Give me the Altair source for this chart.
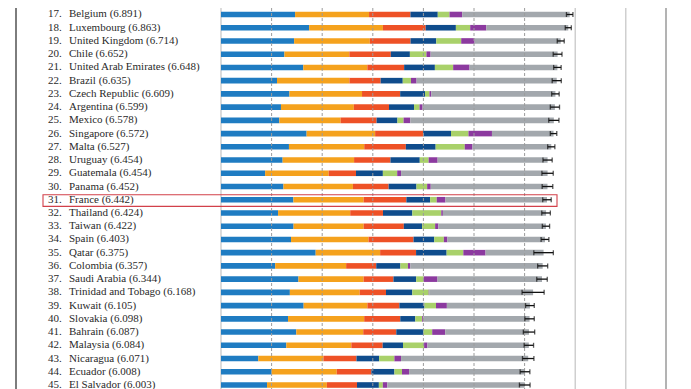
import altair as alt
import pandas as pd

countries = ["Belgium", "Luxembourg", "United Kingdom", "Chile", "United Arab Emirates",
             "Brazil", "Czech Republic", "Argentina", "Mexico", "Singapore", "Malta",
             "Uruguay", "Guatemala", "Panama", "France", "Thailand", "Taiwan", "Spain",
             "Qatar", "Colombia", "Saudi Arabia", "Trinidad and Tobago", "Kuwait",
             "Slovakia", "Bahrain", "Malaysia", "Nicaragua", "Ecuador", "El Salvador"]
ranks = list(range(17, 46))
scores = [6.891, 6.863, 6.714, 6.652, 6.648, 6.635, 6.609, 6.599, 6.578, 6.572, 6.527,
          6.454, 6.454, 6.452, 6.442, 6.424, 6.422, 6.403, 6.375, 6.357, 6.344, 6.168,
          6.105, 6.098, 6.087, 6.084, 6.071, 6.008, 6.003]
gdp = [1.464, 1.742, 1.445, 1.253, 1.626, 1.107, 1.353, 1.185, 1.153, 1.692, 1.343,
       1.218, 0.872, 1.234, 1.431, 1.128, 1.434, 1.384, 1.871, 1.071, 1.531, 1.361,
       1.633, 1.325, 1.488, 1.291, 0.737, 1.001, 0.910]
social = [1.462, 1.458, 1.496, 1.284, 1.266, 1.431, 1.434, 1.440, 1.211, 1.354, 1.488,
          1.412, 1.256, 1.373, 1.388, 1.426, 1.385, 1.532, 1.274, 1.402, 1.287, 1.380,
          1.260, 1.505, 1.323, 1.285, 1.287, 1.286, 1.182]
health = [0.818, 0.845, 0.805, 0.819, 0.727, 0.617, 0.754, 0.695, 0.710, 0.949, 0.822,
          0.719, 0.540, 0.706, 0.844, 0.647, 0.794, 0.889, 0.710, 0.595, 0.590, 0.520,
          0.632, 0.713, 0.653, 0.619, 0.653, 0.685, 0.596]
freedom = [0.540, 0.597, 0.508, 0.377, 0.608, 0.437, 0.491, 0.495, 0.413, 0.550, 0.589,
           0.579, 0.531, 0.550, 0.470, 0.580, 0.361, 0.409, 0.604, 0.477, 0.450, 0.519,
           0.496, 0.296, 0.537, 0.402, 0.448, 0.455, 0.432]
generosity = [0.232, 0.283, 0.493, 0.327, 0.361, 0.162, 0.088, 0.109, 0.121, 0.346, 0.575,
              0.175, 0.283, 0.211, 0.130, 0.572, 0.258, 0.190, 0.330, 0.149, 0.148, 0.325,
              0.228, 0.137, 0.173, 0.417, 0.302, 0.150, 0.078]
trust = [0.251, 0.319, 0.265, 0.082, 0.324, 0.111, 0.037, 0.060, 0.133, 0.464, 0.153,
         0.178, 0.077, 0.071, 0.173, 0.032, 0.064, 0.071, 0.439, 0.047, 0.273, 0.009,
         0.215, 0.024, 0.257, 0.066, 0.131, 0.140, 0.090]
whisker_low = [6.827, 6.803, 6.645, 6.565, 6.574, 6.545, 6.535, 6.508, 6.477, 6.508, 6.456,
               6.363, 6.342, 6.347, 6.358, 6.339, 6.350, 6.326, 6.182, 6.258, 6.240, 5.950,
               6.019, 6.005, 5.975, 5.991, 5.958, 5.912, 5.898]
whisker_high = [6.955, 6.923, 6.783, 6.739, 6.722, 6.725, 6.683, 6.690, 6.679, 6.636, 6.598,
                6.545, 6.566, 6.557, 6.526, 6.509, 6.494, 6.480, 6.568, 6.456, 6.448, 6.386,
                6.191, 6.191, 6.199, 6.177, 6.184, 6.104, 6.108]

parts = ["GDP per capita", "Social support", "Healthy life expectancy", "Freedom",
         "Generosity", "Trust", "Dystopia + residual"]
part_colors = ["#1f7cc2", "#f5a21d", "#ee5126", "#0f4c8c", "#a9d16a", "#8c3a9f", "#a3a8ad"]
grid_values = [0, 1, 2, 3, 4, 5, 6, 7, 8]
highlight = "France"

rows = []
for i, c in enumerate(countries):
    known = [gdp[i], social[i], health[i], freedom[i], generosity[i], trust[i]]
    comps = known + [scores[i] - sum(known)]
    start = 0.0
    for p, v in zip(parts, comps):
        rows.append(dict(country=c, rank=ranks[i], part=p, x0=start, x1=start + v))
        start += v
seg = pd.DataFrame(rows)

info = pd.DataFrame(dict(country=countries, rank=ranks, score=scores,
                         low=whisker_low, high=whisker_high))
info["ranklabel"] = info["rank"].astype(str) + "."
info["name"] = [f"{c} ({s:.3f})" for c, s in zip(countries, scores)]

grid = pd.DataFrame(dict(v=grid_values))
grid["dashed"] = grid["v"].between(1, 6)

xs = alt.Scale(domain=[-4.2095, 9.1304], nice=False, zero=False)
ys = alt.Scale(domain=[16.5088, 45.303], reverse=True, nice=False, zero=False)

grid_dash = alt.Chart(grid[grid["dashed"]]).mark_rule(
    color="#9c9c9c", strokeWidth=1, strokeDash=[3, 2]
).encode(x=alt.X("v:Q", scale=xs, axis=None))
grid_solid = alt.Chart(grid[~grid["dashed"]]).mark_rule(
    color="#c4c4c4", strokeWidth=1.2
).encode(x=alt.X("v:Q", scale=xs, axis=None))

bars = alt.Chart(seg).mark_rule(strokeWidth=5.6).encode(
    x=alt.X("x0:Q", scale=xs, axis=None),
    x2="x1:Q",
    y=alt.Y("rank:Q", scale=ys, axis=None),
    color=alt.Color("part:N", scale=alt.Scale(domain=parts, range=part_colors), legend=None),
)

whisk = alt.Chart(info).mark_rule(color="#111", strokeWidth=1.3).encode(
    x=alt.X("low:Q", scale=xs, axis=None), x2="high:Q",
    y=alt.Y("rank:Q", scale=ys, axis=None))
cap_lo = alt.Chart(info).mark_tick(orient="vertical", size=5, thickness=1.3, color="#111").encode(
    x=alt.X("low:Q", scale=xs, axis=None), y=alt.Y("rank:Q", scale=ys, axis=None))
cap_hi = alt.Chart(info).mark_tick(orient="vertical", size=5, thickness=1.3, color="#111").encode(
    x=alt.X("high:Q", scale=xs, axis=None), y=alt.Y("rank:Q", scale=ys, axis=None))

txt_rank = alt.Chart(info).mark_text(
    align="left", baseline="middle", font="Liberation Serif", fontSize=11, color="#2a2a2a"
).encode(x=alt.value(40), y=alt.Y("rank:Q", scale=ys, axis=None), text="ranklabel:N")
txt_name = alt.Chart(info).mark_text(
    align="left", baseline="middle", font="Liberation Serif", fontSize=11, color="#2a2a2a"
).encode(x=alt.value(61), y=alt.Y("rank:Q", scale=ys, axis=None), text="name:N")

box = alt.Chart(info[info["country"] == highlight]).transform_calculate(
    top="datum.rank - 0.38", bottom="datum.rank + 0.5"
).mark_rect(fill="transparent", stroke="#d2404a", strokeWidth=1.1).encode(
    x=alt.value(35), x2=alt.value(549),
    y=alt.Y("top:Q", scale=ys, axis=None), y2="bottom:Q")

edges = pd.DataFrame(dict(pos=[8, 658], col=["#7d7d7d", "#9a9a9a"]))
edge_l = alt.Chart(edges.iloc[[0]]).mark_rule(color="#7d7d7d", strokeWidth=2).encode(
    x=alt.value(8), y=alt.value(0), y2=alt.value(381))
edge_r = alt.Chart(edges.iloc[[1]]).mark_rule(color="#9a9a9a", strokeWidth=1.5).encode(
    x=alt.value(658), y=alt.value(0), y2=alt.value(381))

chart = alt.layer(
    grid_solid, edge_l, edge_r, bars, grid_dash, whisk, cap_lo, cap_hi, txt_rank, txt_name, box
).properties(
    width=675, height=381, padding=0,
    autosize=alt.AutoSizeParams(type="none"),
).configure_view(stroke=None)

chart.save("out.html", embed_options={"renderer": "svg", "actions": False})
